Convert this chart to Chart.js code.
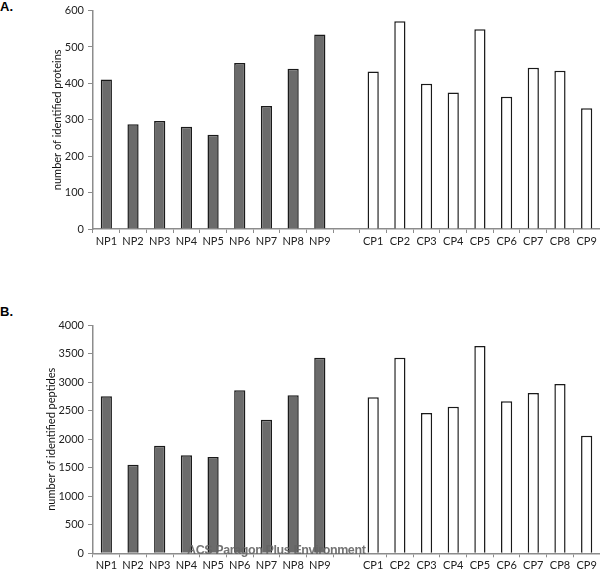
<!DOCTYPE html>
<html>
<head>
<meta charset="utf-8">
<script src="https://cdn.jsdelivr.net/npm/chart.js@4.4.1/dist/chart.umd.min.js"></script>
<style>
    body { margin: 0; background: #fff; }
    #wrap { position: relative; width: 600px; height: 571px; overflow: hidden; }
    .box { position: absolute; left: 0; width: 600px; }
    .panel { position: absolute; left: 0; font: bold 13px "Liberation Sans", Arial, sans-serif; color: #000; }
    #mark { position: absolute; left: 187px; top: 543px; font: bold 12.5px "Liberation Sans", Arial, sans-serif; letter-spacing: -0.4px; color: rgba(100,100,100,0.9); white-space: nowrap; }
</style>
</head>
<body>
<div id="wrap">
    <div class="panel" style="top:-1px">A.</div>
    <div class="box" style="top:0; height:250px"><canvas id="chartProteins"></canvas></div>
    <div class="panel" style="top:304px">B.</div>
    <div class="box" style="top:300px; height:271px"><canvas id="chartPeptides"></canvas></div>
    <div id="mark">ACS Paragon Plus Environment</div>
</div>
<script>
// sample names
var npLabels = ['NP1', 'NP2', 'NP3', 'NP4', 'NP5', 'NP6', 'NP7', 'NP8', 'NP9'];
var cpLabels = ['CP1', 'CP2', 'CP3', 'CP4', 'CP5', 'CP6', 'CP7', 'CP8', 'CP9'];

// A. number of identified proteins
var proteinsNP = [411, 288, 297, 281, 259, 456, 338, 440, 534];
var proteinsCP = [433, 571, 399, 375, 549, 363, 443, 435, 332];

// B. number of identified peptides
var peptidesNP = [2754, 1554, 1888, 1719, 1689, 2860, 2344, 2772, 3432];
var peptidesCP = [2737, 3432, 2461, 2572, 3637, 2667, 2812, 2968, 2063];

var fontFam = 'Lato, "Open Sans", sans-serif';
var axisGray = '#8c8c8c';

function drawBars(canvasId, npData, cpData, opt) {
    // one empty slot between the two groups
    var labels = npLabels.concat(['']).concat(cpLabels);
    var values = npData.concat([null]).concat(cpData);
    var fills = [];
    for (var i = 0; i < labels.length; i++) {
        fills.push(i < npLabels.length ? '#6b6b6b' : '#ffffff');
    }

    var ctx = document.getElementById(canvasId).getContext('2d');
    return new Chart(ctx, {
        type: 'bar',
        data: {
            labels: labels,
            datasets: [{
                data: values,
                backgroundColor: fills,
                borderColor: '#1a1a1a',
                borderWidth: 1.5,
                barPercentage: 0.42,
                categoryPercentage: 1
            }]
        },
        options: {
            responsive: true,
            maintainAspectRatio: false,
            animation: false,
            layout: {
                padding: { left: opt.padLeft, right: 0, top: opt.padTop, bottom: 0 }
            },
            plugins: {
                legend: { display: false },
                tooltip: { enabled: false }
            },
            scales: {
                x: {
                    afterFit: function (s) { s.height = opt.xHeight; },
                    border: { color: axisGray, width: 1.5 },
                    grid: { display: true, drawOnChartArea: false, color: axisGray, tickLength: 4 },
                    ticks: { color: '#222', padding: 2, maxRotation: 0, autoSkip: false, font: { family: fontFam, size: 11 } }
                },
                y: {
                    min: 0,
                    max: opt.max,
                    afterFit: function (s) { s.width = opt.yWidth; },
                    border: { color: axisGray, width: 1.5 },
                    grid: { display: true, drawOnChartArea: false, color: axisGray, tickLength: 5 },
                    ticks: {
                        stepSize: opt.step,
                        color: '#222',
                        padding: 4,
                        font: { family: fontFam, size: 11 },
                        callback: function (v) { return String(v); }
                    },
                    title: {
                        display: true,
                        text: opt.title,
                        color: '#111',
                        padding: { top: 0, bottom: 0 },
                        font: { family: fontFam, size: 11 }
                    }
                }
            }
        }
    });
}

drawBars('chartProteins', proteinsNP, proteinsCP, {
    max: 600, step: 100, title: 'number of identified proteins',
    padLeft: 51, yWidth: 42, padTop: 7.5, xHeight: 21
});

drawBars('chartPeptides', peptidesNP, peptidesCP, {
    max: 4000, step: 500, title: 'number of identified peptides',
    padLeft: 45, yWidth: 48, padTop: 25.3, xHeight: 17.7
});
</script>
</body>
</html>
